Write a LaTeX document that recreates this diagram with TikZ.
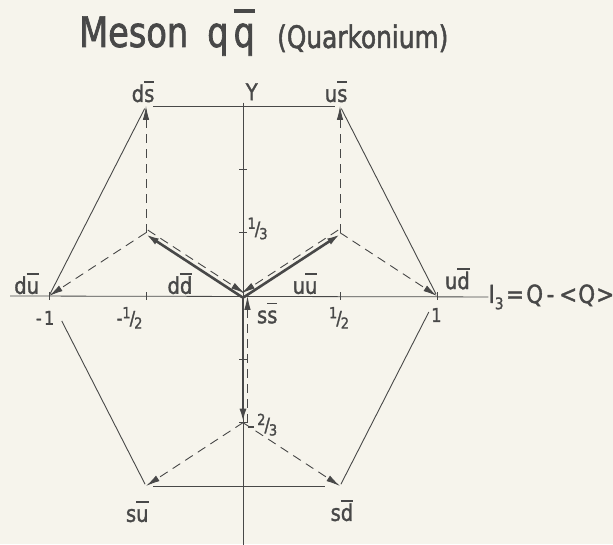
\documentclass[tikz,border=0pt]{standalone}
\usepackage{fontspec}
\setmainfont{DejaVu Sans}
\newfontfamily\tfont[FakeStretch=0.8,FakeBold=1.6]{DejaVu Sans}
\newfontfamily\lfont[FakeStretch=0.85,FakeBold=1.4,LetterSpace=12]{DejaVu Sans}
\usetikzlibrary{arrows.meta}
\definecolor{paper}{HTML}{F6F4EC}
\definecolor{ink}{HTML}{484848}
\newcommand\ob[1]{\leavevmode\setbox0\hbox{#1}\rlap{\raisebox{0.82em}{\rule{\wd0}{0.08em}}}\box0}
\newcommand\fr[2]{\raisebox{0.35em}{\scalebox{0.8}{#1}}\kern-0.05em/\kern-0.05em\raisebox{-0.2em}{\scalebox{0.8}{#2}}}
\tikzset{
  lbl/.style={inner sep=0pt, text=ink, font=\lfont\fontsize{23}{23}\selectfont},
  numlbl/.style={inner sep=0pt, text=ink, font=\lfont\fontsize{19}{19}\selectfont},
  axisline/.style={draw=ink, line width=0.8pt},
  hexline/.style={draw=ink, line width=0.9pt},
  quarkarrow/.style={draw=ink, line width=2.6pt, -{Latex[length=14pt,width=7pt]}},
  dasharrow/.style={draw=ink, line width=0.9pt, dash pattern=on 9pt off 6pt, -{Latex[length=14pt,width=6.5pt]}},
  tickmark/.style={draw=ink, line width=0.8pt}
}
\begin{document}
\begin{tikzpicture}[x=1pt,y=1pt]
\fill[paper] (0,0) rectangle (613,544);
\useasboundingbox (0,0) rectangle (613,544);
\node[anchor=base west, inner sep=0pt, text=ink, font=\tfont\fontsize{42}{42}\selectfont] (title) at (79,497) {Meson};
\node[anchor=base west, inner sep=0pt, text=ink, font=\tfont\fontsize{42}{42}\selectfont] (qq) at (207,497) {q\kern0.12em\ob{q}};
\node[anchor=base west, inner sep=0pt, text=ink, font=\tfont\fontsize{31}{31}\selectfont] (sub) at (277,496) {(Quarkonium)};
\begin{scope}[shift={(243,248)}, x=194pt, y=190pt]
  \coordinate (O) at (0,0);
  \coordinate (D) at (-0.5,1/3);
  \coordinate (U) at (0.5,1/3);
  \coordinate (S) at (0,-2/3);
  \coordinate (DS) at (-0.5,1);
  \coordinate (US) at (0.5,1);
  \coordinate (DU) at (-1,0);
  \coordinate (UD) at (1,0);
  \coordinate (SU) at (-0.5,-1);
  \coordinate (SD) at (0.5,-1);
  \coordinate (xa) at (-1.2,0);
  \coordinate (ya) at (0,1.018);
  \coordinate (yb) at (0,-1.32);
  % axes
  \node[anchor=west, inner sep=0pt, text=ink, font=\lfont\fontsize{25}{25}\selectfont] (xl) at (1.265,-0.005) {I\raisebox{-0.25em}{\fontsize{16}{16}\selectfont 3}\kern0.1em=\kern0.1em Q-\kern0.2em<\kern0.05em Q\kern0.05em>};
  \node[lbl, anchor=south] (yl) at (0.045,1.03) {Y};
  \draw[axisline] (xa) -- (xl.west);
  \draw[axisline] (ya) -- (yb);
  % ticks
  \foreach \t in {-1,-0.5,0.5,1}{\draw[tickmark] (\t,0) ++(0,-4pt) -- ++(0,8pt);}
  \foreach \t in {2/3,1/3,-1/3,-2/3}{\draw[tickmark] (0,\t) ++(-4pt,0) -- ++(8pt,0);}
  % hexagon
  \draw[hexline, shorten <=2pt, shorten >=3pt] (DU) -- (DS);
  \draw[hexline, shorten <=7pt, shorten >=5pt] (DS) -- (US);
  \draw[hexline, shorten <=3pt, shorten >=2pt] (US) -- (UD);
  \draw[hexline, shorten <=28pt, shorten >=2pt] (DU) -- (SU);
  \draw[hexline, shorten <=18pt, shorten >=2pt] (UD) -- (SD);
  \draw[hexline, shorten <=7pt, shorten >=15pt] (SU) -- (SD);
  % quark arrows
  \draw[quarkarrow] ([shift={(-0.8pt,-1.2pt)}]O) -- ([shift={(-0.8pt,-1.2pt)}]D);
  \draw[quarkarrow] ([shift={(0.8pt,-1.2pt)}]O) -- ([shift={(0.8pt,-1.2pt)}]U);
  \draw[quarkarrow] (O) -- (S);
  % antiquark arrows
  \draw[dasharrow] ([shift={(1.8pt,2.6pt)}]D) -- ([shift={(1.8pt,2.6pt)}]O);
  \draw[dasharrow] ([shift={(-1.8pt,2.6pt)}]U) -- ([shift={(-1.8pt,2.6pt)}]O);
  \draw[dasharrow] ([shift={(4.5pt,0)}]S) -- ([shift={(4.5pt,0)}]O);
  \draw[dasharrow] (D) -- (DS);
  \draw[dasharrow] (D) -- (DU);
  \draw[dasharrow] (U) -- (US);
  \draw[dasharrow] (U) -- (UD);
  \draw[dasharrow] (S) -- (SU);
  \draw[dasharrow] (S) -- (SD);
  % state labels
  \node[lbl] (lds) at (-0.515,1.075) {d\ob{s}};
  \node[lbl] (lus) at (0.48,1.075) {u\ob{s}};
  \node[lbl] (ldu) at (-1.115,0.065) {d\ob{u}};
  \node[lbl] (ldd) at (-0.325,0.065) {d\ob{d}};
  \node[lbl] (luu) at (0.32,0.065) {u\ob{u}};
  \node[lbl] (lud) at (1.105,0.09) {u\ob{d}};
  \node[lbl] (lss) at (0.125,-0.09) {s\ob{s}};
  \node[lbl] (lsu) at (-0.545,-1.135) {s\ob{u}};
  \node[lbl] (lsd) at (0.51,-1.13) {s\ob{d}};
  % numbers
  \node[numlbl] (nm1) at (-1.02,-0.115) {-1};
  \node[numlbl] (nmh) at (-0.585,-0.115) {-\fr{1}{2}};
  \node[numlbl] (nph) at (0.495,-0.115) {\fr{1}{2}};
  \node[numlbl] (np1) at (0.997,-0.1) {1};
  \node[numlbl] (nth) at (0.075,0.355) {\fr{1}{3}};
  \node[numlbl, anchor=base west] (ntt) at ([shift={(5pt,-9pt)}]S) {\rule[4pt]{6pt}{1.4pt}\kern3pt\fr{2}{3}};
\end{scope}
\end{tikzpicture}
\end{document}
